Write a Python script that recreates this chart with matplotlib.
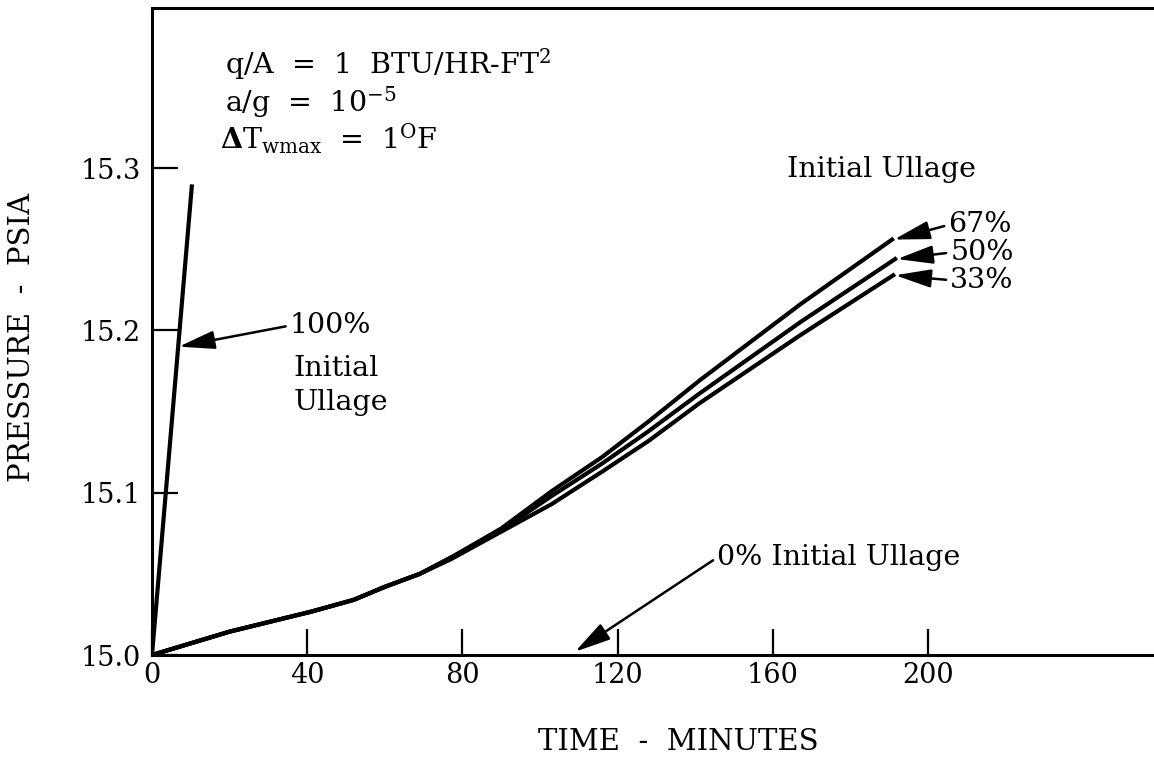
import matplotlib
matplotlib.use("Agg")
import matplotlib.pyplot as plt

plt.rcParams["font.family"] = ["DejaVu Serif"]
plt.rcParams["mathtext.fontset"] = "dejavuserif"

# pressure rise curves
time_100 = [0, 10.3]
pres_100 = [15.0, 15.29]

time_67 = [0, 20, 41, 52, 60, 69, 77, 90, 103, 116, 128, 141, 167, 190.7]
pres_67 = [15.0, 15.0144, 15.0267, 15.034, 15.042, 15.050, 15.060, 15.078,
           15.101, 15.122, 15.144, 15.169, 15.216, 15.256]

time_50 = [0, 20, 41, 52, 60, 69, 77, 90, 103, 116, 128, 141, 167, 191.5]
pres_50 = [15.0, 15.0144, 15.0267, 15.034, 15.042, 15.050, 15.060, 15.077,
           15.098, 15.118, 15.138, 15.161, 15.205, 15.244]

time_33 = [0, 20, 41, 52, 60, 69, 77, 90, 103, 116, 128, 141, 167, 191]
pres_33 = [15.0, 15.0144, 15.0267, 15.034, 15.042, 15.050, 15.059, 15.076,
           15.093, 15.113, 15.132, 15.155, 15.197, 15.234]

x_ticks = [0, 40, 80, 120, 160, 200]
y_ticks = [15.0, 15.1, 15.2, 15.3]
y_ticklabels = ["15.0", "15.1", "15.2", "15.3"]

fig = plt.figure(figsize=(11.54, 7.6), dpi=100)
ax = fig.add_axes([152 / 1154, 1 - 655 / 760, 1 - 152 / 1154, 647 / 760])

lw = 3.0
ax.plot(time_100, pres_100, color="black", lw=lw, solid_capstyle="butt")
ax.plot(time_67, pres_67, color="black", lw=lw)
ax.plot(time_50, pres_50, color="black", lw=lw)
ax.plot(time_33, pres_33, color="black", lw=lw)

ax.set_xlim(0, 258.2)
ax.set_ylim(15.0, 15.3987)
ax.set_xticks(x_ticks)
ax.set_yticks(y_ticks)
ax.set_yticklabels(y_ticklabels)
ax.tick_params(direction="in", length=19, width=1.6, labelsize=19.5)
ax.tick_params(axis="x", pad=5)
ax.tick_params(axis="y", pad=8)
ax.spines["right"].set_visible(False)
for s in ["left", "top", "bottom"]:
    ax.spines[s].set_linewidth(2.2)

fig.text(678 / 1154, 1 - 742 / 760, "TIME  -  MINUTES", ha="center",
         va="center", fontsize=21)
fig.text(22 / 1154, 1 - 337 / 760, "PRESSURE  -  PSIA", ha="center",
         va="center", rotation=90, fontsize=21)

# conditions block
fs = 20.5
ax.text(18.9, 15.364, r"q/A  =  1  BTU/HR-FT$^{2}$", fontsize=fs, va="center")
ax.text(18.9, 15.341, r"a/g  =  10$^{-5}$", fontsize=fs, va="center")
ax.text(17.5, 15.318, r"$\mathbf{\Delta}$T$_{\mathrm{wmax}}$  =  1$^{\mathrm{O}}$F",
        fontsize=fs, va="center")

arrow = dict(arrowstyle="-|>,head_length=1.1,head_width=0.28",
             mutation_scale=20, color="black", lw=1.8,
             shrinkA=1, shrinkB=0, relpos=(0, 0.5))

ax.annotate("100%", xy=(6.9, 15.19), xytext=(35.5, 15.203),
            fontsize=fs, va="center", ha="left", arrowprops=arrow)
ax.text(36.5, 15.166, "Initial\nUllage", fontsize=fs, va="center",
        ha="left", linespacing=1.3)

ax.annotate("0% Initial Ullage", xy=(109, 15.002), xytext=(145.6, 15.060),
            fontsize=fs, va="center", ha="left", arrowprops=arrow)

ax.text(163.7, 15.299, "Initial Ullage", fontsize=fs, va="center", ha="left")
ax.annotate("67%", xy=(time_67[-1] + 0.5, pres_67[-1]), xytext=(205.2, 15.265),
            fontsize=fs, va="center", ha="left", arrowprops=arrow)
ax.annotate("50%", xy=(time_50[-1] + 0.5, pres_50[-1]), xytext=(205.7, 15.248),
            fontsize=fs, va="center", ha="left", arrowprops=arrow)
ax.annotate("33%", xy=(time_33[-1] + 0.5, pres_33[-1]), xytext=(205.7, 15.231),
            fontsize=fs, va="center", ha="left", arrowprops=arrow)

fig.savefig("out.png", dpi=100)
